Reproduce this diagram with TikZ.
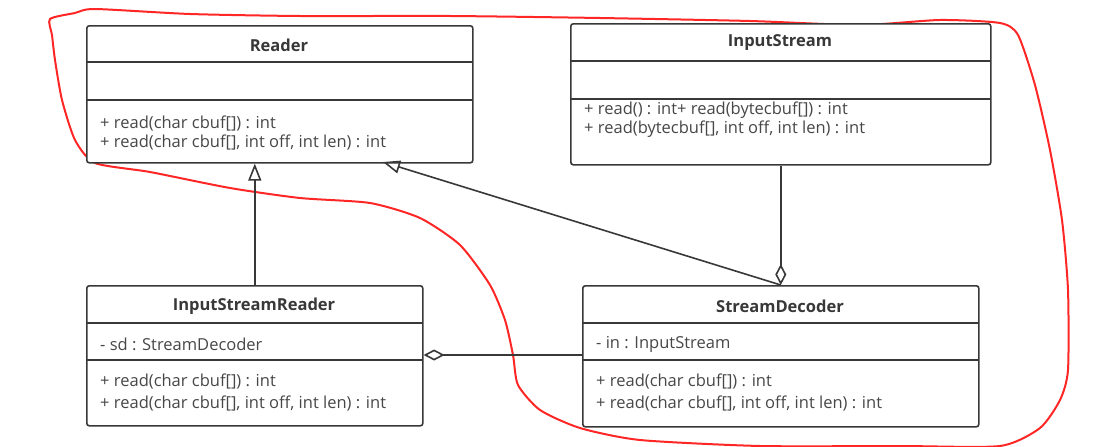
\documentclass[tikz,border=0pt]{standalone}
\usepackage{fontspec}
\setmainfont{Open Sans}
\usetikzlibrary{arrows.meta}

\begin{document}
\begin{tikzpicture}[x=1pt,y=-1pt]
        \tikzset{cls/.style={draw=black!78, line width=1.6pt, rounded corners=2.5pt, inner sep=0pt, anchor=north west},
                 sep/.style={draw=black!78, line width=1.6pt},
                 title/.style={text=black!78, font=\fontsize{16.5}{19}\selectfont\bfseries},
                 member/.style={text=black!72, anchor=west, inner sep=0pt, font=\fontsize{16.5}{19}\selectfont},
                 inherit/.style={-{Triangle[open, length=17pt, width=13pt]}, draw=black!78, line width=1.6pt},
                 agg/.style={-{Diamond[open, length=21pt, width=11pt]}, draw=black!78, line width=1.6pt}}
        \useasboundingbox (0,0) rectangle (1120,447);

        % hand drawn outline
        \draw[red!85!white, line width=2pt] plot[smooth cycle, tension=0.4] coordinates {
            (50,19) (75,13) (95,9) (190,14) (300,16) (450,16) (600,18) (750,21) (860,25) (940,20) (1000,23)
            (1018,35) (1035,85) (1050,150) (1062,220) (1068,290) (1068,370) (1060,400) (1040,428)
            (1000,446) (900,446) (760,446) (640,440) (580,428) (540,410) (518,385) (513,355)
            (505,320) (490,285) (460,245) (420,218) (370,203) (300,198) (230,188) (150,172)
            (95,163) (75,140) (62,100) (55,60) (52,35)};

        % classes
        \node[cls, minimum width=386pt, minimum height=137pt, fill=white] (reader) at (86,25) {};
        \draw[sep] (86,62) -- (472,62);
        \draw[sep] (86,100) -- (472,100);
        \node[title] (readerT) at (279,45) {Reader};
        \node[member] (readerM1) at (100,123) {+ read(char cbuf[]) : int};
        \node[member] (readerM2) at (100,142) {+ read(char cbuf[], int off, int len) : int};

        \node[cls, minimum width=420pt, minimum height=141pt, fill=white] (is) at (570,23) {};
        \draw[sep] (570,61) -- (990,61);
        \draw[sep] (570,99) -- (990,99);
        \node[title] (isT) at (780,43) {InputStream};
        \node[member] (isM1) at (584,110) {+ read() : int+ read(bytecbuf[]) : int};
        \node[member] (isM2) at (584,129) {+ read(bytecbuf[], int off, int len) : int};

        \node[cls, minimum width=336pt, minimum height=140pt, fill=white] (isr) at (86,285) {};
        \draw[sep] (86,323) -- (422,323);
        \draw[sep] (86,360) -- (422,360);
        \node[title] (isrT) at (254,306) {InputStreamReader};
        \node[member] (isrA) at (100,344) {- sd : StreamDecoder};
        \node[member] (isrM1) at (100,381) {+ read(char cbuf[]) : int};
        \node[member] (isrM2) at (100,403) {+ read(char cbuf[], int off, int len) : int};

        \node[cls, minimum width=396pt, minimum height=141pt, fill=white] (sd) at (582,285) {};
        \draw[sep] (582,323) -- (978,323);
        \draw[sep] (582,360) -- (978,360);
        \node[title] (sdT) at (780,306) {StreamDecoder};
        \node[member] (sdA) at (596,344) {- in : InputStream};
        \node[member] (sdM1) at (596,381) {+ read(char cbuf[]) : int};
        \node[member] (sdM2) at (596,403) {+ read(char cbuf[], int off, int len) : int};

        % relations
        \coordinate (readerTip) at (383,162);
        \coordinate (sdLeft) at (582,355);
        \draw[inherit] (isr.north) -- (isr.north |- reader.south);
        \draw[inherit] (sd.north) -- (readerTip);
        \draw[agg] (is.south) -- (sd.north);
        \draw[agg] (sdLeft) -- (sdLeft -| isr.east);
\end{tikzpicture}
\end{document}
